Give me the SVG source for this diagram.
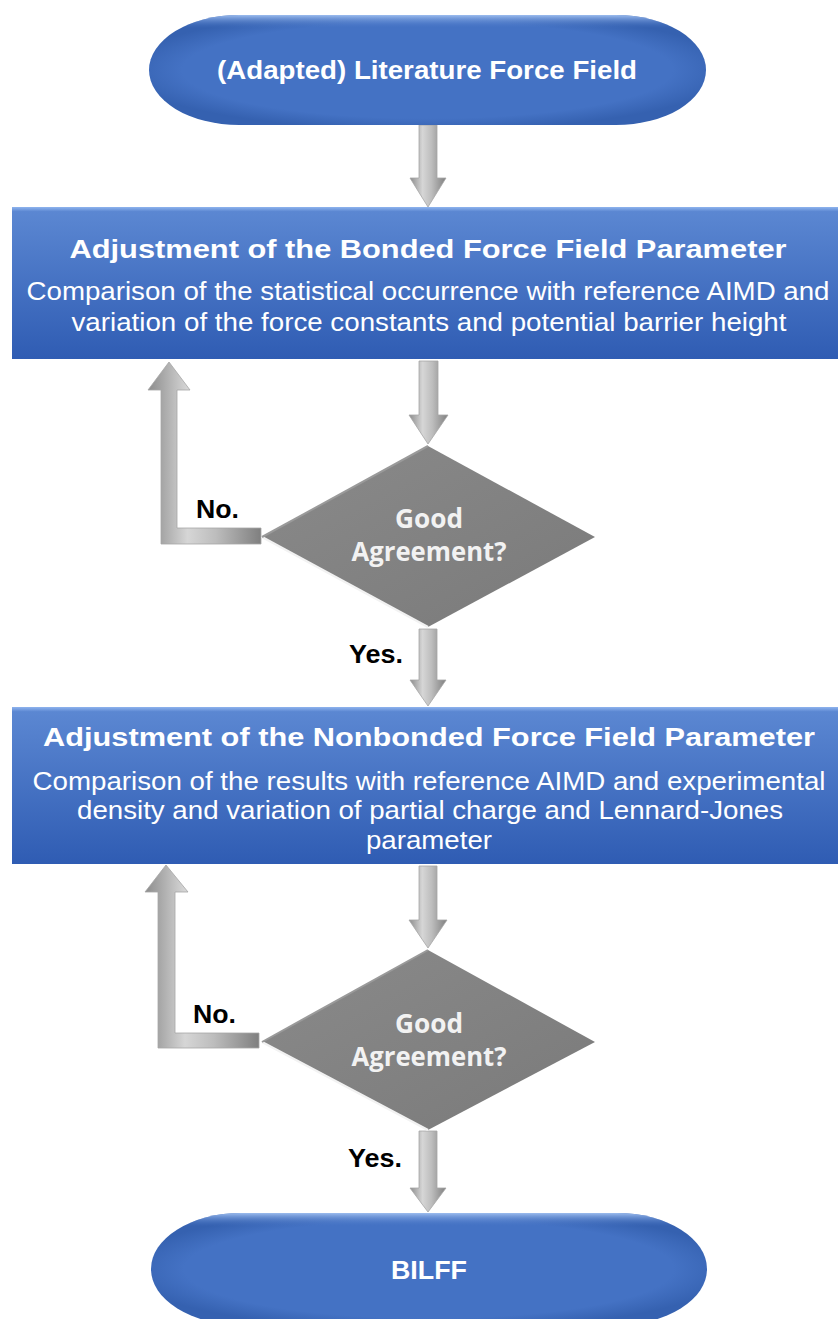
<svg xmlns="http://www.w3.org/2000/svg" width="838" height="1319" viewBox="0 0 838 1319">
<defs>
<style>
.ttl{font-family:"Liberation Sans",Arial,sans-serif;font-weight:bold;fill:#ffffff;text-anchor:middle}
.sub{font-family:"Liberation Sans",Arial,sans-serif;fill:#ffffff;text-anchor:middle;font-size:25px}
.dq{font-family:"Open Sans","Noto Sans",sans-serif;font-weight:bold;fill:#f2f2f2;text-anchor:middle;font-size:26px}
.lbl{font-family:"Liberation Sans",Arial,sans-serif;font-weight:bold;fill:#000000;font-size:25px}
.arr{fill:url(#gv);stroke:#a6a6a6;stroke-width:0.8}
</style>
<linearGradient id="gBox" x1="0" y1="0" x2="0" y2="1">
<stop offset="0" stop-color="#8fb4ee"/>
<stop offset="0.03" stop-color="#5b87d2"/>
<stop offset="1" stop-color="#2f5cb3"/>
</linearGradient>
<radialGradient id="gTerm" cx="0.5" cy="0.5" r="0.55">
<stop offset="0.8" stop-color="#4472c4"/>
<stop offset="1" stop-color="#3561b0"/>
</radialGradient>
<linearGradient id="gTermTop" x1="0" y1="0" x2="0" y2="1">
<stop offset="0" stop-color="#a7c6f5" stop-opacity="0.9"/>
<stop offset="0.12" stop-color="#4472c4" stop-opacity="0"/>
</linearGradient>
<linearGradient id="gv" x1="0" y1="0" x2="1" y2="0">
<stop offset="0" stop-color="#8c8c8c"/>
<stop offset="0.35" stop-color="#d6d6d6"/>
<stop offset="0.6" stop-color="#bdbdbd"/>
<stop offset="1" stop-color="#7f7f7f"/>
</linearGradient>
<linearGradient id="gDia" x1="0" y1="0" x2="1" y2="1">
<stop offset="0" stop-color="#8a8a8a"/>
<stop offset="1" stop-color="#7a7a7a"/>
</linearGradient>
</defs>

<g id="connectors">
<path class="arr" d="M419,125 H437 V178 H446 L428,207 L410,178 H419 Z"/>
<path class="arr" d="M419,361 H438 V415 H448 L428,444 L409,415 H419 Z"/>
<path class="arr" d="M419,629 H437 V680 H446 L428,706 L410,680 H419 Z"/>
<path class="arr" d="M261,528 V544 H161 V390 H148 L169,362 L190,390 H177 V528 Z"/>
<path class="arr" d="M419,866 H437 V920 H447 L428,948 L409,920 H419 Z"/>
<path class="arr" d="M419,1131 H437 V1188 H446 L428,1212 L410,1188 H419 Z"/>
<path class="arr" d="M259,1033 V1048 H158 V892 H145 L166,865 L188,892 H175 V1033 Z"/>
<text class="lbl" x="196" y="518" textLength="43" lengthAdjust="spacingAndGlyphs">No.</text>
<text class="lbl" x="349" y="663" textLength="54" lengthAdjust="spacingAndGlyphs">Yes.</text>
<text class="lbl" x="193" y="1023" textLength="43" lengthAdjust="spacingAndGlyphs">No.</text>
<text class="lbl" x="348" y="1167" textLength="54" lengthAdjust="spacingAndGlyphs">Yes.</text>
</g>

<g id="start">
<rect x="149" y="15" width="557" height="110" rx="90" ry="55" fill="url(#gTerm)"/>
<rect x="149" y="15" width="557" height="110" rx="90" ry="55" fill="url(#gTermTop)"/>
<text class="ttl" x="427" y="79" font-size="25" textLength="420" lengthAdjust="spacingAndGlyphs">(Adapted) Literature Force Field</text>
</g>

<g id="box1">
<rect x="12" y="207" width="826" height="152" fill="url(#gBox)"/>
<text class="ttl" x="428" y="258" font-size="26" textLength="717" lengthAdjust="spacingAndGlyphs">Adjustment of the Bonded Force Field Parameter</text>
<text class="sub" x="428" y="300" textLength="803" lengthAdjust="spacingAndGlyphs">Comparison of the statistical occurrence with reference AIMD and</text>
<text class="sub" x="429" y="331" textLength="715" lengthAdjust="spacingAndGlyphs">variation of the force constants and potential barrier height</text>
</g>

<g id="decision1">
<polygon points="428,446 595,537 428,627 262,537" fill="url(#gDia)"/>
<polyline points="262,537 428,627" fill="none" stroke="#f2f2f2" stroke-width="2.5"/>
<polyline points="262,537 428,446" fill="none" stroke="#9a9a9a" stroke-width="2"/>
<text class="dq" x="429" y="528" textLength="68" lengthAdjust="spacingAndGlyphs">Good</text>
<text class="dq" x="429" y="561" textLength="155" lengthAdjust="spacingAndGlyphs">Agreement?</text>
</g>

<g id="box2">
<rect x="12" y="707" width="826" height="157" fill="url(#gBox)"/>
<text class="ttl" x="429" y="746" font-size="26" textLength="772" lengthAdjust="spacingAndGlyphs">Adjustment of the Nonbonded Force Field Parameter</text>
<text class="sub" x="429" y="790" textLength="793" lengthAdjust="spacingAndGlyphs">Comparison of the results with reference AIMD and experimental</text>
<text class="sub" x="430" y="819" textLength="706" lengthAdjust="spacingAndGlyphs">density and variation of partial charge and Lennard-Jones</text>
<text class="sub" x="429" y="849" textLength="126" lengthAdjust="spacingAndGlyphs">parameter</text>
</g>

<g id="decision2">
<polygon points="428,950 595,1042 428,1130 262,1042" fill="url(#gDia)"/>
<polyline points="262,1042 428,1130" fill="none" stroke="#f2f2f2" stroke-width="2.5"/>
<polyline points="262,1042 428,950" fill="none" stroke="#9a9a9a" stroke-width="2"/>
<text class="dq" x="429" y="1033" textLength="68" lengthAdjust="spacingAndGlyphs">Good</text>
<text class="dq" x="429" y="1066" textLength="155" lengthAdjust="spacingAndGlyphs">Agreement?</text>
</g>

<g id="end">
<rect x="151" y="1213" width="556" height="112" rx="90" ry="56" fill="url(#gTerm)"/>
<rect x="151" y="1213" width="556" height="112" rx="90" ry="56" fill="url(#gTermTop)"/>
<text class="ttl" x="429" y="1279" font-size="25" textLength="76" lengthAdjust="spacingAndGlyphs">BILFF</text>
</g>
</svg>
